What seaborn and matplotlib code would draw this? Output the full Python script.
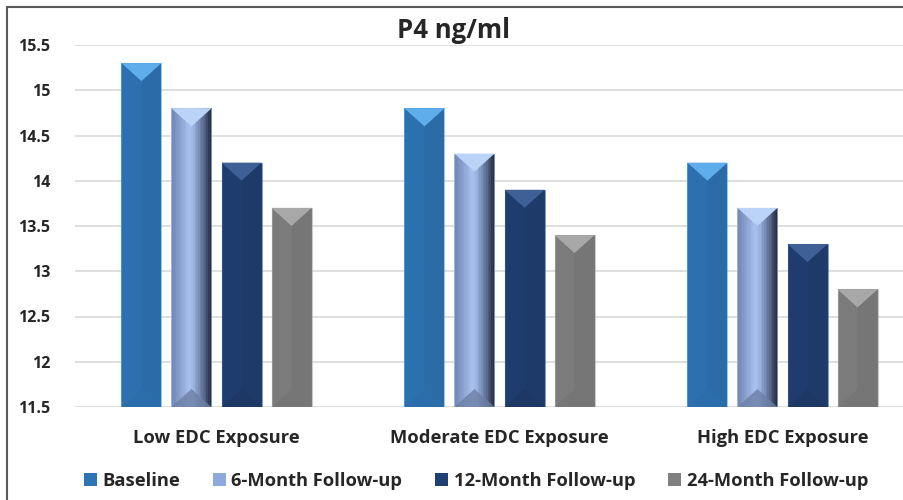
import matplotlib
matplotlib.use("Agg")
import matplotlib.pyplot as plt
import seaborn as sns
import pandas as pd
import numpy as np
from matplotlib.patches import Rectangle, Polygon

categories = ["Low EDC Exposure", "Moderate EDC Exposure", "High EDC Exposure"]
series = ["Baseline", "6-Month Follow-up", "12-Month Follow-up", "24-Month Follow-up"]
baseline = [15.3, 14.8, 14.2]
month6 = [14.8, 14.3, 13.7]
month12 = [14.2, 13.9, 13.3]
month24 = [13.7, 13.4, 12.8]
yticks = [11.5, 12, 12.5, 13, 13.5, 14, 14.5, 15, 15.5]
title = "P4 ng/ml"

colors = ["#2E74B5", "#8EA9DB", "#203F72", "#808080"]
light = ["#5FADEB", "#BBD3F7", "#3F6096", "#A8A8A8"]
dark_bottom = ["#2B6AA8", "#6D7FA6", "#1E3762", "#747474"]

rows = []
for s, vals in zip(series, [baseline, month6, month12, month24]):
    for c, v in zip(categories, vals):
        rows.append({"cat": c, "series": s, "value": v})
df = pd.DataFrame(rows)

sns.set_style("white")
plt.rcParams["font.family"] = ["Open Sans", "DejaVu Sans"]

fig = plt.figure(figsize=(9.04, 5.00), dpi=100)
W, H = 904, 500
ax_left, ax_right, ax_bot, ax_top = 75, 924, 407, 45
ax = fig.add_axes([ax_left / W, 1 - ax_bot / H, (ax_right - ax_left) / W, (ax_bot - ax_top) / H])

sns.barplot(data=df, x="cat", y="value", hue="series", order=categories, hue_order=series,
            palette=colors, width=0.707, gap=0.2, ax=ax, errorbar=None, saturation=1,
            edgecolor="none", linewidth=0)

fs = 13.2
ax.set_ylim(11.5, 15.5)
ax.set_yticks(yticks)
ax.set_yticklabels([f"{t:g}" for t in yticks], fontsize=11.5, fontweight="bold")
ax.set_xlabel("")
ax.set_ylabel("")
for lab in ax.get_xticklabels():
    lab.set_fontsize(fs)
    lab.set_fontweight("bold")
ax.tick_params(axis="y", length=0, pad=18)
ax.tick_params(axis="x", length=0, pad=15.5)
ax.yaxis.grid(True, color="#D9D9D9", linewidth=1.2)
ax.set_axisbelow(True)
for sp in ax.spines.values():
    sp.set_visible(False)

handles, labels = ax.get_legend_handles_labels()
if ax.get_legend() is not None:
    ax.get_legend().remove()

def mix(c1, c2, t):
    a = np.array(matplotlib.colors.to_rgb(c1)); b = np.array(matplotlib.colors.to_rgb(c2))
    return tuple(a + (b - a) * t)

inv = ax.transData.inverted()
hexcols = [matplotlib.colors.to_hex(c) for c in colors]
bars = [p for p in ax.patches if isinstance(p, Rectangle) and p.get_width() > 0 and p.get_height() > 0]
fig.canvas.draw()
for p in bars:
    fc = matplotlib.colors.to_hex(p.get_facecolor()).lower()
    idx = hexcols.index(fc) if fc in hexcols else 0
    x0 = p.get_x(); x1 = x0 + p.get_width(); top = p.get_height(); bot = 11.5
    (px0, ptop), (px1, pbot) = ax.transData.transform([(x0, top), (x1, bot)])
    wpx = px1 - px0
    depth = wpx * 0.45
    xc = (x0 + x1) / 2
    ytop_in = inv.transform((0, ptop - depth))[1]
    ybot_in = inv.transform((0, pbot + depth))[1]
    if idx == 1:
        n = 24
        stops = [(0.0, "#6F84B3"), (0.45, "#A8C1EE"), (0.55, "#9DB5E3"), (0.85, "#4E5E80"), (1.0, "#1C2433")]
        for k in range(n):
            t0 = k / n; t1 = (k + 1) / n; tm = (t0 + t1) / 2
            for j in range(len(stops) - 1):
                if stops[j][0] <= tm <= stops[j + 1][0]:
                    tt = (tm - stops[j][0]) / (stops[j + 1][0] - stops[j][0])
                    col = mix(stops[j][1], stops[j + 1][1], tt)
                    break
            xa = x0 + (x1 - x0) * t0; xb = x0 + (x1 - x0) * t1
            ax.add_patch(Polygon([(xa, top), (xb + 1e-4, top), (xb + 1e-4, bot), (xa, bot)],
                                 closed=True, facecolor=col, edgecolor="none", zorder=3))
    else:
        ax.add_patch(Polygon([(xc, ytop_in), (x1, top), (x1, bot), (xc, ybot_in)],
                             closed=True, facecolor="black", alpha=0.07, edgecolor="none", zorder=3))
        ax.add_patch(Polygon([(x0, top), (xc, ytop_in), (xc, ybot_in), (x0, bot)],
                             closed=True, facecolor="black", alpha=0.03, edgecolor="none", zorder=3))
    ax.add_patch(Polygon([(x0, top), (x1, top), (xc, ytop_in)], closed=True,
                         facecolor=light[idx], edgecolor="none", zorder=4))
    ax.add_patch(Polygon([(x0, bot), (x1, bot), (xc, ybot_in)], closed=True,
                         facecolor=dark_bottom[idx], alpha=0.8, edgecolor="none", zorder=4))
    ax.add_patch(Rectangle((x0, bot), x1 - x0, top - bot, facecolor="none",
                           edgecolor=light[idx], linewidth=0.8, alpha=0.6, zorder=5))

ax.set_xlim(-0.5, len(categories) - 0.5)

fig.text(454 / W, 1 - 31 / H, title, ha="center", va="center", fontsize=18.5, fontweight="bold")

fig.legend(handles, labels, loc="center", bbox_to_anchor=(476 / W, 1 - 481 / H), ncol=4,
           frameon=False, prop={"size": fs, "weight": "bold"}, handlelength=0.7, handleheight=0.7,
           handletextpad=0.3, columnspacing=1.8)

fig.patches.append(Rectangle((7 / W, -0.1), 1.2, 1 - 7 / H + 0.1, transform=fig.transFigure,
                             fill=False, edgecolor="#595959", linewidth=1.5))

fig.savefig("out.png", dpi=100)
